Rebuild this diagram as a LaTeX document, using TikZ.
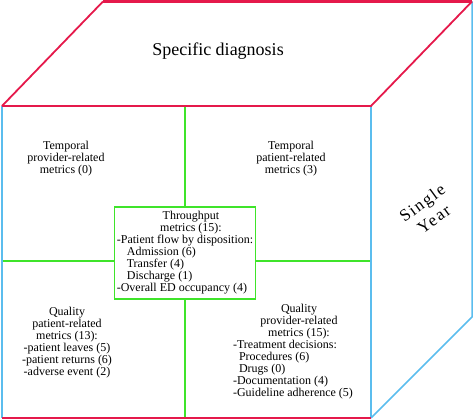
\documentclass[tikz,border=0pt]{standalone}
\usepackage{fontspec}
\setmainfont{Liberation Serif}
\newfontfamily\spacedserif[LetterSpace=10.0]{Liberation Serif}
\definecolor{cred}{HTML}{E5194B}
\definecolor{cblue}{HTML}{5BBDEE}
\definecolor{cgreen}{HTML}{3FE42A}
\begin{document}
\begin{tikzpicture}[x=1pt,y=-1pt,
  redline/.style={draw=cred,line width=1.8pt,line join=miter},
  thickred/.style={draw=cred,line width=2.8pt},
  blueline/.style={draw=cblue,line width=1.5pt},
  greenline/.style={draw=cgreen,line width=1.6pt},
  lbl/.style={font=\fontsize{12}{12}\selectfont,align=center,inner sep=0pt},
]
\useasboundingbox (0,0) rectangle (474,420);
% cube corners
\coordinate (A) at (2,106);
\coordinate (B) at (371,106);
\coordinate (C) at (371,418);
\coordinate (D) at (2,418);
\coordinate (E) at (103,1.5);
\coordinate (F) at (472,1.5);
\coordinate (G) at (472,317);
% green partitions
\coordinate (Vt) at (185,106);
\coordinate (Vb) at (185,418);
\coordinate (Hl) at (2,261);
\coordinate (Hr) at (371,261);
\node[draw=cgreen,line width=1.6pt,minimum width=141pt,minimum height=92pt,inner sep=0pt,
      font=\fontsize{12}{12}\selectfont] (tp) at (185,253)
  {\begin{tabular}{@{}l@{}}
   \multicolumn{1}{@{}c@{}}{\hspace{12pt}Throughput}\\
   \multicolumn{1}{@{}c@{}}{\hspace{12pt}metrics (15):}\\
   -Patient flow by disposition:\\
   \hspace{10pt}Admission (6)\\
   \hspace{10pt}Transfer (4)\\
   \hspace{10pt}Discharge (1)\\
   -Overall ED occupancy (4)
   \end{tabular}};
\draw[greenline] (Vt) -- (tp.north);
\draw[greenline] (tp.south) -- (Vb);
\draw[greenline] (Hl) -- (Hl -| tp.west);
\draw[greenline] (Hr -| tp.east) -- (Hr);
% cube edges
\draw[blueline] (F) -- (G) -- (C);
\draw[blueline] (A) -- (D);
\draw[blueline] (B) -- (C);
\draw[redline] (A) -- (E);
\draw[redline] (F) -- (B) -- (A);
\draw[thickred] (E) -- (F);
\draw[thickred] (D) -- (C);
% labels
\node[inner sep=0pt,font=\fontsize{18}{18}\selectfont] (sd) at (218,51) {Specific diagnosis};
\node[lbl] (tpr) at (66,159) {Temporal\\provider-related\\metrics (0)};
\node[lbl] (tpa) at (291,159) {Temporal\\patient-related\\metrics (3)};
\node[lbl] (qpa) at (67,343) {Quality\\patient-related\\metrics (13):\\-patient leaves (5)\\-patient returns (6)\\-adverse event (2)};
\node[inner sep=0pt,font=\fontsize{12}{12}\selectfont] (qpr) at (293,352)
  {\begin{tabular}{@{}l@{}}
   \multicolumn{1}{@{}c@{}}{\hspace{12pt}Quality}\\
   \multicolumn{1}{@{}c@{}}{\hspace{12pt}provider-related}\\
   \multicolumn{1}{@{}c@{}}{\hspace{12pt}metrics (15):}\\
   -Treatment decisions:\\
   \hspace{6pt}Procedures (6)\\
   \hspace{6pt}Drugs (0)\\
   -Documentation (4)\\
   -Guideline adherence (5)
   \end{tabular}};
\node[inner sep=0pt,rotate=36,align=center,font=\spacedserif\fontsize{17}{20}\selectfont] (sy) at (428,211) {Single\\Year};
\end{tikzpicture}
\end{document}
